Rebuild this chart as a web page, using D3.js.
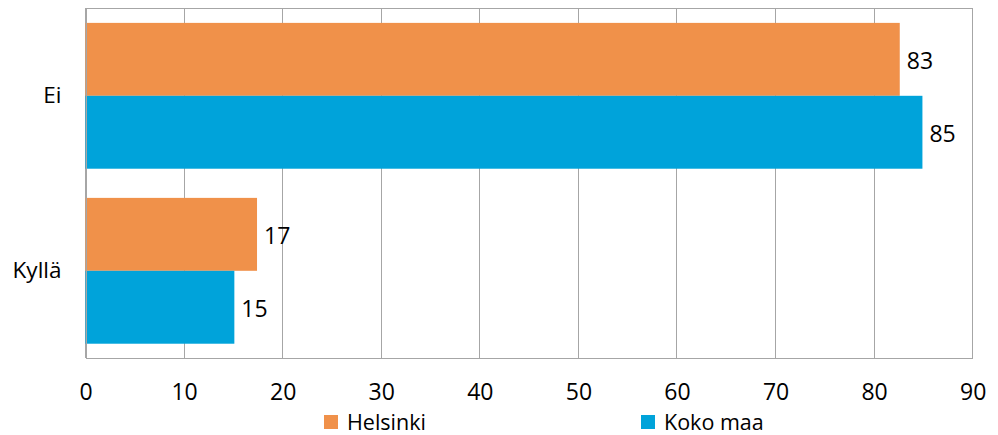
<!DOCTYPE html>
<html>
<head>
<meta charset="utf-8">
<script src="https://cdn.jsdelivr.net/npm/d3@7/dist/d3.min.js"></script>
<style>
  html, body { margin: 0; padding: 0; background: #ffffff; }
  svg { display: block; }
  text { font-family: "Open Sans", sans-serif; fill: #000; }
</style>
</head>
<body>
<svg id="chart" width="998" height="435"></svg>
<script>
const categories = ["Ei", "Kyllä"];
const seriesNames = ["Helsinki", "Koko maa"];
const helsinki = [82.6, 17.4];
const kokoMaa = [84.9, 15.1];
const dataLabels = [["83", "17"], ["85", "15"]];
const xTicks = [0, 10, 20, 30, 40, 50, 60, 70, 80, 90];
const colors = ["#F0914A", "#00A3DA"];

const series = [helsinki, kokoMaa];

const svg = d3.select("#chart");
const margin = { left: 85.5, right: 998 - 972.7, top: 8.3, bottom: 435 - 358.3 };
const W = 998, H = 435;

const x = d3.scaleLinear().domain([0, 90]).range([margin.left, W - margin.right]);
const y0 = d3.scaleBand().domain(categories).range([margin.top, H - margin.bottom]).padding(0);
const y1 = d3.scaleBand().domain(seriesNames).range([0, y0.bandwidth()]).paddingInner(0).paddingOuter(0.2);

// gridlines
svg.append("g")
  .selectAll("line")
  .data(xTicks)
  .join("line")
  .attr("x1", d => x(d)).attr("x2", d => x(d))
  .attr("y1", margin.top).attr("y2", H - margin.bottom)
  .attr("stroke", "#a6a6a6").attr("stroke-width", 1)
  .attr("shape-rendering", "crispEdges");

// top border
svg.append("line")
  .attr("x1", margin.left).attr("x2", W - margin.right)
  .attr("y1", margin.top).attr("y2", margin.top)
  .attr("stroke", "#a6a6a6").attr("shape-rendering", "crispEdges");

// bars
const groups = svg.append("g").selectAll("g")
  .data(categories)
  .join("g")
  .attr("transform", d => `translate(0,${y0(d)})`);

groups.selectAll("rect")
  .data((c, ci) => seriesNames.map((s, si) => ({ s, si, v: series[si][ci], ci })))
  .join("rect")
  .attr("x", x(0))
  .attr("y", d => y1(d.s))
  .attr("width", d => x(d.v) - x(0))
  .attr("height", y1.bandwidth())
  .attr("fill", d => colors[d.si]);

groups.selectAll("text.lbl")
  .data((c, ci) => seriesNames.map((s, si) => ({ s, si, v: series[si][ci], ci })))
  .join("text")
  .attr("class", "lbl")
  .attr("x", d => x(d.v) + 7)
  .attr("y", d => y1(d.s) + y1.bandwidth() / 2 + 1)
  .attr("dy", "0.36em")
  .attr("font-size", 23)
  .text(d => dataLabels[d.si][d.ci]);

// x axis
const xAxis = d3.axisBottom(x).tickValues(xTicks).tickSize(0).tickPadding(0).tickFormat(d3.format("d"));
const gx = svg.append("g")
  .attr("transform", `translate(0,${H - margin.bottom})`)
  .call(xAxis);
gx.select(".domain").attr("stroke", "#a6a6a6").attr("shape-rendering", "crispEdges");
gx.selectAll("text")
  .attr("font-size", 23)
  .attr("font-family", "Open Sans, sans-serif")
  .attr("fill", "#000")
  .attr("dy", null)
  .attr("y", 41.7);

// y axis
const yAxis = d3.axisLeft(y0).tickSize(0).tickPadding(24);
const gy = svg.append("g")
  .attr("transform", `translate(${margin.left},0)`)
  .call(yAxis);
gy.select(".domain").attr("stroke", "#a6a6a6").attr("shape-rendering", "crispEdges");
gy.selectAll("text")
  .attr("font-size", 22.5)
  .attr("font-family", "Open Sans, sans-serif")
  .attr("fill", "#000");

// legend
const legendX = [324, 641];
const legend = svg.append("g").selectAll("g")
  .data(seriesNames)
  .join("g")
  .attr("transform", (d, i) => `translate(${legendX[i]},415)`);
legend.append("rect")
  .attr("width", 14).attr("height", 14)
  .attr("fill", (d, i) => colors[i]);
legend.append("text")
  .attr("x", 23).attr("y", 14.5)
  .attr("font-size", 21.5)
  .text(d => d);
</script>
</body>
</html>
